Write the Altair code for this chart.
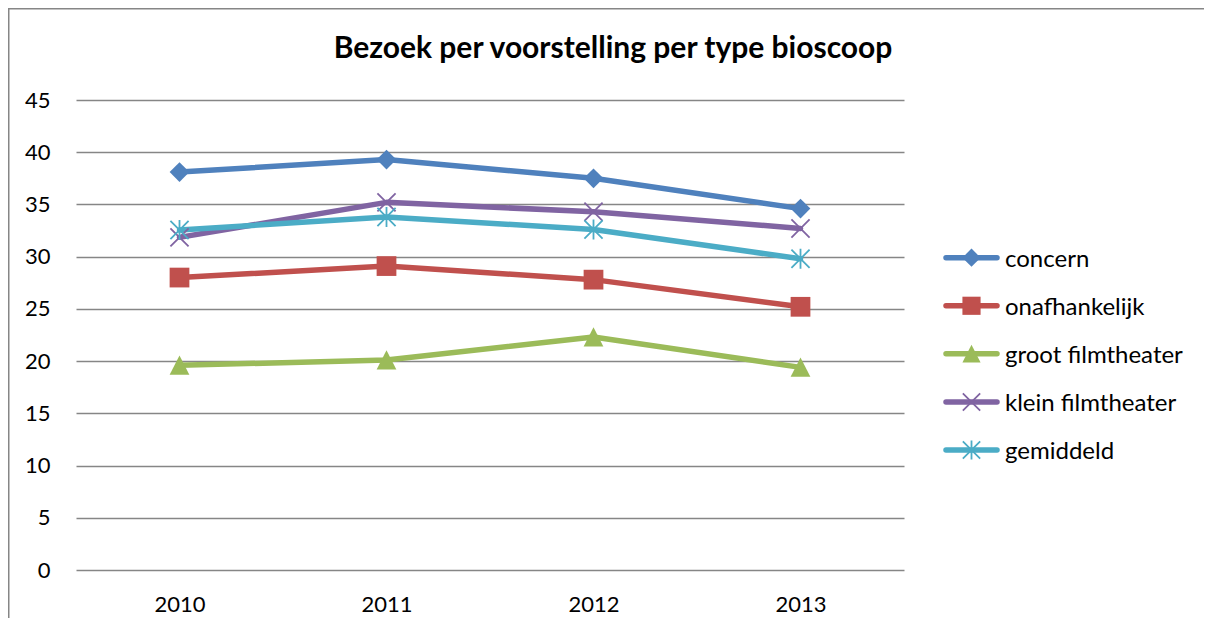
import altair as alt
import pandas as pd

TITLE = "Bezoek per voorstelling per type bioscoop"
YEARS = ["2010", "2011", "2012", "2013"]
SERIES = ["concern", "onafhankelijk", "groot filmtheater", "klein filmtheater", "gemiddeld"]
COLORS = ["#4F81BD", "#C0504D", "#9BBB59", "#8064A2", "#4BACC6"]
concern = [38.1, 39.3, 37.5, 34.6]
onafhankelijk = [28.0, 29.1, 27.8, 25.2]
groot = [19.6, 20.1, 22.3, 19.4]
klein = [31.85, 35.2, 34.3, 32.7]
gemiddeld = [32.55, 33.8, 32.6, 29.8]
Y_TICKS = [0, 5, 10, 15, 20, 25, 30, 35, 40, 45]

SHAPES = [
    "diamond",
    "square",
    "M0,-1L1,0.95L-1,0.95Z",
    "M-1,-1L1,1M-1,1L1,-1",
    "M-1,-1L1,1M-1,1L1,-1M0,-1.1L0,1.1",
]
FILLED = {"concern": True, "onafhankelijk": True, "groot filmtheater": True,
          "klein filmtheater": False, "gemiddeld": False}

rows = []
for name, vals in zip(SERIES, [concern, onafhankelijk, groot, klein, gemiddeld]):
    for yr, v in zip(YEARS, vals):
        rows.append({"series": name, "year": yr, "value": v, "filled": FILLED[name]})
df = pd.DataFrame(rows)
leg_df = pd.DataFrame({"series": SERIES, "filled": [FILLED[s] for s in SERIES]})

FONT = "Lato"
W, H = 828, 470

color = alt.Color("series:N", scale=alt.Scale(domain=SERIES, range=COLORS), legend=None)
shape = alt.Shape("series:N", scale=alt.Scale(domain=SERIES, range=SHAPES), legend=None)

x = alt.X("year:N", sort=YEARS, title=None,
          scale=alt.Scale(type="point", padding=0.5),
          axis=alt.Axis(labelAngle=0, domain=False, ticks=False, tickSize=0,
                        labelPadding=24, labelFontSize=22, labelFont=FONT,
                        labelColor="#000000", labelBaseline="top", grid=False))
y = alt.Y("value:Q", title=None,
          scale=alt.Scale(domain=[0, 45], nice=False, zero=True),
          axis=alt.Axis(values=Y_TICKS, domain=False, ticks=False, tickSize=0,
                        labelPadding=26, labelFontSize=22, labelFont=FONT,
                        labelColor="#000000", grid=True, gridColor="#868686",
                        gridWidth=1.6))

base = alt.Chart(df)
lines = base.mark_line(strokeWidth=5.5, strokeJoin="round", strokeCap="round").encode(
    x=x, y=y, color=color, detail="series:N")
pts_fill = base.transform_filter(alt.datum.filled == True).mark_point(
    filled=True, size=390, opacity=1).encode(x=x, y=y, color=color, shape=shape)
pts_open = base.transform_filter(alt.datum.filled == False).mark_point(
    filled=False, size=330, strokeWidth=1.8, opacity=1).encode(x=x, y=y, color=color, shape=shape)
main = alt.layer(lines, pts_fill, pts_open)

ly = alt.Y("series:N", sort=SERIES, axis=None,
           scale=alt.Scale(type="point", range=[157.7, 350], padding=0))
lbase = alt.Chart(leg_df)
l_rule = lbase.mark_rule(strokeWidth=5.5, strokeCap="round").encode(
    x=alt.value(870), x2=alt.value(921), y=ly, color=color)
l_fill = lbase.transform_filter(alt.datum.filled == True).mark_point(
    filled=True, size=330, opacity=1).encode(x=alt.value(895.5), y=ly, color=color, shape=shape)
l_open = lbase.transform_filter(alt.datum.filled == False).mark_point(
    filled=False, size=300, strokeWidth=1.8, opacity=1).encode(x=alt.value(895.5), y=ly, color=color, shape=shape)
l_text = lbase.mark_text(align="left", baseline="middle", font=FONT, fontSize=24,
                         color="#000000", dy=2).encode(x=alt.value(929), y=ly, text="series:N")
legend = alt.layer(l_rule, l_fill, l_open, l_text)

title = alt.Chart(pd.DataFrame({"t": [TITLE]})).mark_text(
    align="center", baseline="alphabetic", font=FONT, fontSize=30, fontWeight="bold",
    color="#000000").encode(x=alt.value(537), y=alt.value(-42), text="t:N")

border = alt.Chart(pd.DataFrame({"b": [1]})).mark_rect(
    fill="transparent", stroke="#868686", strokeWidth=2).encode(
    x=alt.value(-67.5), x2=alt.value(1400), y=alt.value(-91.5), y2=alt.value(800))

chart = alt.layer(border, main, legend, title).resolve_scale(
    y="independent", x="independent"
).properties(
    width=W, height=H,
    autosize=alt.AutoSizeParams(type="none"),
    padding={"left": 68, "top": 92, "right": 300, "bottom": 48},
    background="#ffffff",
).configure_view(strokeWidth=0)

chart.save("out.html", embed_options={"renderer": "svg", "actions": False})
